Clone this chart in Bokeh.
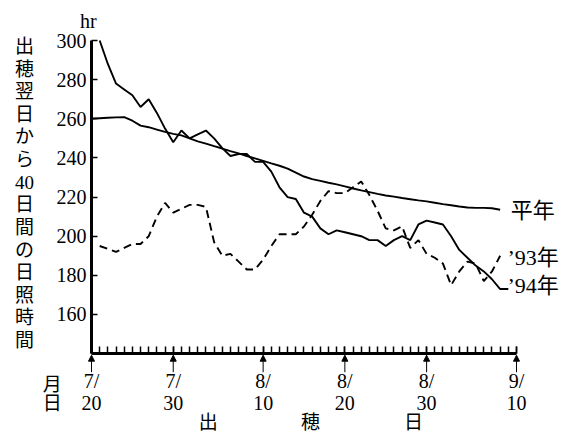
from bokeh.plotting import figure
from bokeh.models import FixedTicker, Label, Arrow, NormalHead, Range1d
from bokeh.embed import file_html
from bokeh.resources import INLINE

# ---- data (day offset from 7/20) ----
days_normal = list(range(0, 51))
normal = [260, 260.3, 260.5, 260.7, 260.8, 259, 256.5, 255.7, 254.5, 253.3,
          252.3, 251.5, 250, 248.5, 247.3, 246, 244.8, 243.5, 242.3, 241,
          239.8, 238.5, 237.2, 236, 234.5, 232.5, 230.5, 229.2, 228.3, 227.3,
          226.5, 225.5, 224.4, 223.4, 222.5, 221.6, 220.8, 220.2, 219.5, 218.9,
          218.3, 217.8, 217.1, 216.4, 215.8, 215.2, 214.7, 214.5, 214.5, 214.3,
          213.5]

days_93 = list(range(1, 51))
y93 = [195, 193.5, 192, 194, 196, 196, 200, 210, 217, 212,
       214, 216, 216, 215, 197, 190, 191, 187, 183, 183,
       188, 195, 201, 201, 201, 205, 211, 218, 223, 222,
       222, 225, 228, 221, 213, 204, 203, 205, 194, 198,
       191, 189, 186, 175, 182, 187, 186, 177, 182, 190]

days_94 = list(range(1, 52))
y94 = [300, 288, 278, 275, 272, 266, 270, 263, 255, 248,
       254, 250, 252, 254, 250, 245, 241, 242, 242, 238,
       238, 233, 225, 220, 219, 212, 210, 204, 201, 203,
       202, 201, 200, 198, 198, 195, 198, 200, 198, 206,
       208, 207, 206, 200, 193, 189, 185, 182, 178, 173,
       173]

major_days = [0, 10, 21, 31, 41, 52]
major_labels = ["7/\n20", "7/\n30", "8/\n10", "8/\n20", "8/\n30", "9/\n10"]
y_ticks = [160, 180, 200, 220, 240, 260, 280, 300]
series_names = ["平年", "’93年", "’94年"]
ytitle = ["出", "穂", "翌", "日", "か", "ら", "40", "日", "間", "の", "日", "照", "時", "間"]
xtitle = ["出", "穂", "日"]

SERIF = "'Liberation Serif', 'Noto Sans CJK JP'"
CJK = "'Noto Sans CJK JP'"

# ranges chosen so the frame fills the canvas (8.173 px/day, 1.957 px/hr)
p = figure(width=570, height=434, output_backend="svg", toolbar_location=None,
           x_range=Range1d(-11.134, 58.607), y_range=Range1d(98.68, 320.44),
           min_border=0)
p.min_border_left = 0
p.min_border_right = 0
p.min_border_top = 0
p.min_border_bottom = 0
p.outline_line_color = None
p.grid.visible = False
p.background_fill_color = "white"
p.border_fill_color = "white"

# x axis
xa = p.xaxis[0]
xa.fixed_location = 140
xa.ticker = FixedTicker(ticks=major_days, minor_ticks=list(range(0, 53)))
xa.major_label_overrides = {d: t for d, t in zip(major_days, major_labels)}
xa.axis_line_width = 3
xa.axis_line_color = "black"
xa.major_tick_in = 7
xa.major_tick_out = 0
xa.minor_tick_in = 7
xa.minor_tick_out = 0
xa.major_tick_line_width = 1.5
xa.minor_tick_line_width = 1.5
xa.major_tick_line_color = "black"
xa.minor_tick_line_color = "black"
xa.major_label_standoff = 16
xa.major_label_text_font = SERIF
xa.major_label_text_font_size = "20px"
xa.major_label_text_line_height = 1.0
xa.major_label_text_color = "black"
xa.bounds = (0, 52)

# y axis
ya = p.yaxis[0]
ya.fixed_location = 0
ya.ticker = FixedTicker(ticks=y_ticks, minor_ticks=[])
ya.axis_line_width = 3
ya.axis_line_color = "black"
ya.major_tick_in = 6
ya.major_tick_out = 0
ya.major_tick_line_width = 1.5
ya.major_tick_line_color = "black"
ya.major_label_standoff = 5
ya.major_label_text_font = SERIF
ya.major_label_text_font_size = "20px"
ya.major_label_text_color = "black"
ya.bounds = (140, 300)

# lines
p.line(days_normal, normal, line_color="black", line_width=1.9)
p.line(days_93, y93, line_color="black", line_width=1.9, line_dash="8 5")
p.line(days_94, y94, line_color="black", line_width=1.9)

# tick arrows
for d in major_days:
    p.add_layout(Arrow(end=NormalHead(size=6, fill_color="black", line_color="black"),
                       x_start=d, y_start=130.5, x_end=d, y_end=139.2,
                       line_width=1, line_color="black"))

def lab(x, y, text, size="20px", font=SERIF, align="left", baseline="middle", **kw):
    p.add_layout(Label(x=x, y=y, text=text, text_font=font, text_font_size=size,
                       text_align=align, text_baseline=baseline, text_color="black", **kw))

# series labels
lab(51.3, 214.2, series_names[0], size="22px", font=CJK)
lab(50.9, 189.0, series_names[1], size="22px")
lab(50.9, 174.8, series_names[2], size="22px")

# unit
lab(-0.4, 310.2, "hr", size="20px", align="center")

# month/day label
lab(-4.8, 125.2, "月", size="19px", font=CJK, align="center")
lab(-4.8, 115.6, "日", size="19px", font=CJK, align="center")

# x title
for xx, ch in zip([14.3, 26.8, 39.4], xtitle):
    lab(xx, 105.6, ch, size="19px", font=CJK, align="center")

# vertical y title
lab(-8.2, 302.3, "\n".join(ytitle), size="19px", align="center", baseline="top",
    text_line_height=1.077)

open("out.html", "w").write(file_html(p, INLINE))
